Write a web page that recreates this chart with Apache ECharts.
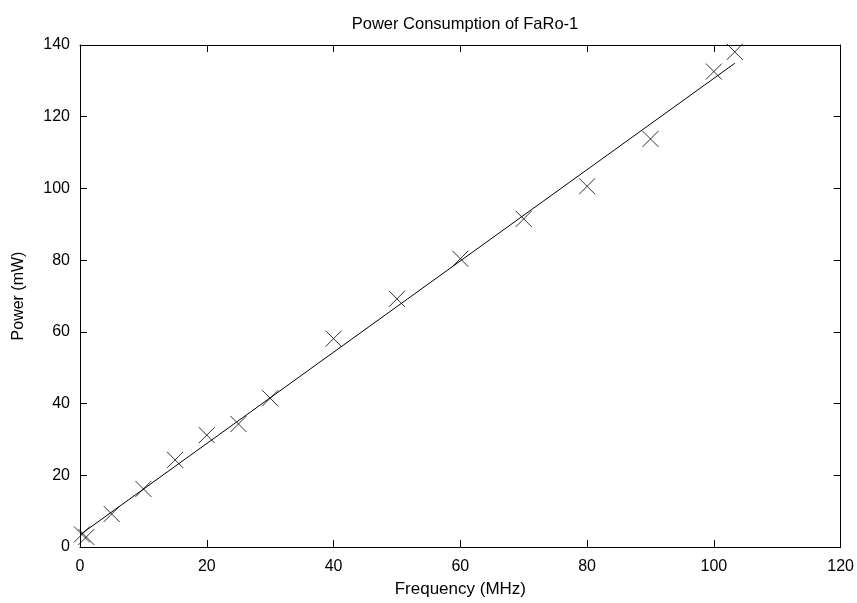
<!DOCTYPE html>
<html>
<head>
<meta charset="utf-8">
<script src="https://cdn.jsdelivr.net/npm/echarts@6/dist/echarts.min.js"></script>
<style>
  html, body { margin: 0; padding: 0; background: #fff; }
  #chart { width: 857px; height: 603px; }
</style>
</head>
<body>
<div id="chart"></div>
<script>
// Measured power of FaRo-1 versus clock frequency
const frequencyMHz = [0.3, 1, 5, 10, 15, 20, 25, 30, 40, 50, 60, 70, 80, 90, 100, 103.3];
const powerMW = [3.5, 2.8, 9.2, 16.2, 24.3, 31.2, 34.3, 41.5, 58.1, 69.2, 80.4, 91.5, 100.6, 113.8, 132.6, 138.1];

// Linear fit endpoints
const fitX = [0, 103.3];
const fitY = [3.4, 134.9];

const xTicks = [0, 20, 40, 60, 80, 100, 120];
const yTicks = [0, 20, 40, 60, 80, 100, 120, 140];

const FONT = '"Liberation Sans", Arial, Helvetica, sans-serif';

const chart = echarts.init(document.getElementById('chart'));

const baseAxis = {
  axisLine: { show: true, onZero: false, lineStyle: { color: '#000', width: 1 } },
  axisTick: { show: true, inside: true, length: 7, lineStyle: { color: '#000', width: 1 } },
  splitLine: { show: false },
  axisLabel: { color: '#000', fontFamily: FONT, fontSize: 16 }
};

chart.setOption({
  animation: false,
  backgroundColor: '#fff',
  title: {
    text: 'Power Consumption of FaRo-1',
    left: 460, top: 11, textAlign: 'center',
    textStyle: { color: '#000', fontFamily: FONT, fontSize: 16.5, fontWeight: 'normal' }
  },
  grid: { left: 80, right: 16, top: 45, bottom: 53, show: false },
  xAxis: [
    Object.assign({}, baseAxis, {
      type: 'value', min: xTicks[0], max: xTicks[xTicks.length - 1], interval: 20,
      position: 'bottom',
      name: 'Frequency (MHz)', nameLocation: 'middle', nameGap: 34,
      nameTextStyle: { color: '#000', fontFamily: FONT, fontSize: 17 },
      axisLabel: Object.assign({}, baseAxis.axisLabel, { margin: 12 })
    }),
    Object.assign({}, baseAxis, {
      type: 'value', min: xTicks[0], max: xTicks[xTicks.length - 1], interval: 20,
      position: 'top', axisLabel: { show: false }
    })
  ],
  yAxis: [
    Object.assign({}, baseAxis, {
      type: 'value', min: yTicks[0], max: yTicks[yTicks.length - 1], interval: 20,
      position: 'left',
      name: 'Power (mW)', nameLocation: 'middle', nameGap: 53, nameRotate: 90,
      nameTextStyle: { color: '#000', fontFamily: FONT, fontSize: 16 },
      axisLabel: Object.assign({}, baseAxis.axisLabel, { margin: 10 })
    }),
    Object.assign({}, baseAxis, {
      type: 'value', min: yTicks[0], max: yTicks[yTicks.length - 1], interval: 20,
      position: 'right', axisLabel: { show: false }
    })
  ],
  series: [
    {
      type: 'line',
      data: fitX.map((x, i) => [x, fitY[i]]),
      showSymbol: false,
      lineStyle: { color: '#000', width: 1 },
      z: 2
    },
    {
      type: 'scatter',
      data: frequencyMHz.map((x, i) => [x, powerMW[i]]),
      symbol: 'path://M0,0L10,10M10,0L0,10',
      symbolSize: 16,
      itemStyle: { color: 'none', borderColor: '#000', borderWidth: 1 },
      z: 3
    }
  ]
});
</script>
</body>
</html>
